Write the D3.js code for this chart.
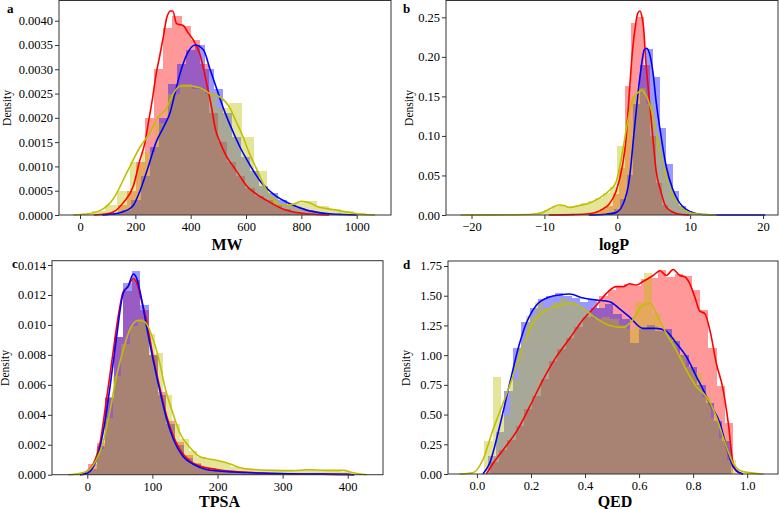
<!DOCTYPE html>
<html lang="en">
<head>
<meta charset="UTF-8">
<title>distributions</title>
<script src="https://cdn.jsdelivr.net/npm/d3@7/dist/d3.min.js"></script>
<style>
  body { margin: 0; background: #fff; }
</style>
</head>
<body>
<script>
// ---- colours of the three sets
var setColors = ["#ff0000", "#0000ff", "#bfbf00"];
var serif = "'Liberation Serif', 'Times New Roman', serif";

// ---- tick labels
var mwTicksX = [0, 200, 400, 600, 800, 1000];
var mwTicksY = [0, 0.0005, 0.0010, 0.0015, 0.0020, 0.0025, 0.0030, 0.0035, 0.0040];
var logpTicksX = [-20, -10, 0, 10, 20];
var logpTicksY = [0, 0.05, 0.10, 0.15, 0.20, 0.25];
var tpsaTicksX = [0, 100, 200, 300, 400];
var tpsaTicksY = [0, 0.002, 0.004, 0.006, 0.008, 0.010, 0.012, 0.014];
var qedTicksX = [0, 0.2, 0.4, 0.6, 0.8, 1.0];
var qedTicksY = [0, 0.25, 0.5, 0.75, 1.0, 1.25, 1.5, 1.75];

// ---- MW histograms: [first bin edge, bin width], densities
var mwRedBins = [103, 33];
var mwRedHist = [0.00004, 0.0002, 0.0005, 0.0011, 0.0020, 0.0030, 0.00384, 0.0041, 0.0039, 0.0036, 0.0031, 0.0021, 0.0015, 0.0011, 0.0008, 0.00055, 0.0004, 0.0003, 0.0002, 0.00012, 0.00007, 0.00004, 0.00002];
var mwBlueBins = [120, 33];
var mwBlueHist = [0.00004, 0.0001, 0.0003, 0.0008, 0.0014, 0.0020, 0.0027, 0.0031, 0.0034, 0.0035, 0.0030, 0.0026, 0.0021, 0.0016, 0.0012, 0.0009, 0.0006, 0.00045, 0.0003, 0.0002, 0.00015, 0.0001, 0.00006, 0.00004, 0.00002];
var mwYellowBins = [0, 45];
var mwYellowHist = [0.00002, 0.00008, 0.0002, 0.0005, 0.0011, 0.0013, 0.0019, 0.0025, 0.0027, 0.0026, 0.0025, 0.0022, 0.0023, 0.0016, 0.0009, 0.0004, 0.0002, 0.00025, 0.00028, 0.00018, 0.00012, 0.00008, 0.00004];
// MW density curves [value, density]
var mwRedKde = [[50,0],[90,0.00002],[120,0.00006],[157,0.00026],[193,0.0006],[215,0.0011],[235,0.0015],[247,0.0019],[262,0.0024],[275,0.0029],[289,0.0033],[302,0.0037],[313,0.00405],[327,0.0042],[335,0.0042],[349,0.00394],[373,0.0039],[391,0.00375],[410,0.0036],[434,0.0033],[458,0.0027],[476,0.0022],[488,0.0018],[506,0.0015],[530,0.0012],[554,0.001],[578,0.0008],[602,0.0006],[640,0.00042],[675,0.0003],[735,0.00012],[795,0.00004],[860,0.00001],[900,0]];
var mwBlueKde = [[80,0],[130,0.00003],[170,0.0001],[193,0.0002],[217,0.0005],[247,0.001],[275,0.0015],[301,0.0018],[325,0.0021],[343,0.0025],[361,0.0029],[386,0.0033],[416,0.0035],[446,0.0034],[470,0.003],[494,0.0026],[518,0.0022],[554,0.0017],[578,0.0014],[602,0.00115],[651,0.0007],[699,0.00043],[759,0.00023],[819,0.0001],[892,0.00003],[950,0.00001],[1000,0]];
var mwYellowKde = [[-24,0],[20,0.00002],[72,0.00009],[120,0.00033],[169,0.00087],[217,0.0014],[253,0.0017],[280,0.002],[313,0.0022],[337,0.0025],[361,0.00265],[390,0.00266],[409,0.00265],[434,0.00262],[470,0.0025],[506,0.00243],[542,0.0022],[566,0.0019],[590,0.0016],[610,0.0013],[639,0.00094],[675,0.0005],[711,0.00025],[740,0.0002],[770,0.00022],[800,0.00028],[830,0.00025],[855,0.00018],[916,0.00011],[976,0.00005],[1030,0.00001],[1066,0]];

// ---- logP
var logpRedBins = [-4.9, 0.85];
var logpRedHist = [0.001, 0.002, 0.004, 0.007, 0.012, 0.026, 0.06, 0.163, 0.243, 0.25, 0.19, 0.10, 0.04, 0.013, 0.004, 0.001];
var logpBlueBins = [-2.3, 0.9];
var logpBlueHist = [0.001, 0.003, 0.007, 0.02, 0.05, 0.14, 0.19, 0.21, 0.175, 0.11, 0.065, 0.03, 0.012, 0.005, 0.002, 0.001];
var logpYellowBins = [-11, 1.0];
var logpYellowHist = [0.002, 0.006, 0.011, 0.012, 0.01, 0.012, 0.015, 0.018, 0.022, 0.028, 0.036, 0.087, 0.12, 0.15, 0.16, 0.14, 0.10, 0.06, 0.03, 0.012, 0.005, 0.002, 0.001];
var logpRedKde = [[-9.4,0],[-6,0.0005],[-3.9,0.0015],[-2,0.0075],[-1.1,0.014],[-0.2,0.029],[0.7,0.062],[1.2,0.096],[1.65,0.154],[2.1,0.209],[2.5,0.24],[2.8,0.255],[3.1,0.258],[3.4,0.25],[3.6,0.238],[3.9,0.196],[4.4,0.146],[4.9,0.096],[5.3,0.058],[6.0,0.029],[6.7,0.01],[8.1,0.002],[9.9,0]];
var logpBlueKde = [[-3.9,0],[-1.5,0.001],[-0.2,0.003],[0.7,0.012],[1.65,0.045],[2.3,0.104],[2.8,0.15],[3.3,0.188],[3.7,0.209],[4.0,0.211],[4.4,0.205],[4.9,0.18],[5.3,0.146],[6.0,0.1],[6.7,0.062],[7.6,0.033],[8.5,0.016],[9.4,0.0075],[10.8,0.002],[12.7,0.0003],[15,0],[20.3,0]];
var logpYellowKde = [[-21.5,0],[-15,0.0003],[-11.7,0.001],[-10.3,0.003],[-8.9,0.0096],[-8,0.0126],[-7.3,0.012],[-6.6,0.0096],[-5.2,0.012],[-3.9,0.015],[-2.5,0.021],[-1.1,0.031],[-0.2,0.041],[0.7,0.079],[1.4,0.117],[2.1,0.146],[3.0,0.156],[3.3,0.158],[3.9,0.152],[4.9,0.125],[5.8,0.083],[6.7,0.05],[7.6,0.024],[9.0,0.0075],[10.8,0.0015],[13.6,0]];

// ---- TPSA
var tpsaRedBins = [1, 13.4];
var tpsaRedHist = [0.0007, 0.0021, 0.0052, 0.0092, 0.0123, 0.0130, 0.0110, 0.0080, 0.0055, 0.0036, 0.0022, 0.0013, 0.0008, 0.0005, 0.0004, 0.0003, 0.0002, 0.00015, 0.0001, 0.00008, 0.00006, 0.00005, 0.00004, 0.00003, 0.00003, 0.00002, 0.00002, 0.00002, 0.00001];
var tpsaBlueBins = [1, 13.4];
var tpsaBlueHist = [0.0004, 0.0019, 0.0051, 0.0092, 0.0128, 0.0136, 0.0113, 0.0080, 0.0053, 0.0034, 0.0020, 0.0011, 0.0007, 0.0004, 0.0003, 0.0002, 0.00015, 0.0001, 0.00008, 0.00006, 0.00004, 0.00003, 0.00002, 0.00002, 0.00001];
var tpsaYellowBins = [0, 13];
var tpsaYellowHist = [0.0004, 0.0017, 0.0038, 0.0066, 0.0087, 0.0099, 0.0104, 0.0094, 0.0081, 0.0053, 0.0034, 0.0024, 0.0016, 0.0012, 0.0010, 0.0009, 0.0008, 0.0005, 0.0004, 0.00035, 0.0003, 0.0003, 0.00028, 0.00027, 0.00028, 0.0003, 0.00035, 0.0003, 0.00028, 0.00028, 0.0002];
var tpsaRedKde = [[-11,0],[0,0.00024],[9,0.0007],[19.5,0.0021],[30,0.0052],[40,0.0083],[47.6,0.0106],[55,0.0122],[63,0.0126],[70.7,0.0131],[76,0.0128],[83.5,0.0116],[91,0.0103],[101,0.0079],[112,0.0057],[122,0.0039],[132,0.0026],[142,0.0017],[158,0.0009],[173,0.00058],[199,0.00035],[224,0.00022],[275,0.0001],[327,0.00005],[398,0.00002],[410,0]];
var tpsaBlueKde = [[-11,0],[0,0.0001],[14,0.001],[24.6,0.0029],[35,0.0059],[45,0.0092],[55,0.0121],[63,0.0126],[70.7,0.0134],[76,0.0131],[83.5,0.0117],[91,0.0099],[101,0.0077],[112,0.0055],[122,0.0037],[132,0.0024],[147.5,0.0012],[163,0.0007],[183,0.00035],[224,0.00018],[275,0.0001],[330,0.00005],[398,0.00002],[410,0]];
var tpsaYellowKde = [[-29,0],[-11,0.0001],[0,0.00024],[14,0.001],[24.6,0.0022],[35,0.0043],[45,0.0066],[55,0.0083],[65.5,0.0097],[78,0.0103],[88.6,0.0102],[99,0.0093],[109,0.0079],[119,0.0059],[130,0.0043],[142,0.0028],[158,0.0018],[173,0.0012],[194,0.001],[214,0.0008],[235,0.00047],[255,0.00035],[286,0.00029],[316,0.00027],[337,0.00033],[368,0.00029],[393,0.00029],[409,0.00013],[429,0]];

// ---- QED
var qedRedBins = [0.05, 0.031];
var qedRedHist = [0.1, 0.2, 0.29, 0.4, 0.55, 0.66, 0.8, 0.95, 1.05, 1.14, 1.24, 1.32, 1.40, 1.50, 1.55, 1.58, 1.60, 1.58, 1.64, 1.65, 1.72, 1.66, 1.68, 1.67, 1.55, 1.38, 1.06, 0.74, 0.43];
var qedBlueBins = [0.04, 0.031];
var qedBlueHist = [0.15, 0.35, 0.7, 1.06, 1.28, 1.40, 1.47, 1.50, 1.52, 1.50, 1.48, 1.45, 1.47, 1.40, 1.43, 1.35, 1.30, 1.10, 1.22, 1.25, 1.20, 1.22, 1.12, 1.00, 0.90, 0.75, 0.60, 0.45, 0.28];
var qedYellowBins = [0.028, 0.031];
var qedYellowHist = [0.28, 0.82, 0.5, 0.8, 1.07, 1.33, 1.45, 1.40, 1.45, 1.48, 1.45, 1.40, 1.35, 1.30, 1.32, 1.30, 1.25, 1.22, 1.45, 1.69, 1.35, 1.20, 1.15, 1.00, 0.9, 0.85, 0.65, 0.47, 0.3, 0.12];
var qedRedKde = [[0.035,0],[0.06,0.09],[0.096,0.2],[0.146,0.356],[0.195,0.566],[0.244,0.79],[0.294,0.987],[0.343,1.14],[0.393,1.3],[0.442,1.42],[0.479,1.52],[0.516,1.576],[0.541,1.576],[0.565,1.6],[0.59,1.59],[0.615,1.62],[0.652,1.67],[0.677,1.71],[0.701,1.67],[0.726,1.72],[0.75,1.67],[0.769,1.66],[0.788,1.6],[0.806,1.49],[0.825,1.37],[0.843,1.35],[0.862,1.21],[0.886,0.93],[0.911,0.71],[0.93,0.43],[0.948,0.09],[0.967,0.01],[0.985,0]];
var qedBlueKde = [[0.022,0],[0.047,0.09],[0.084,0.4],[0.121,0.76],[0.158,1.1],[0.183,1.27],[0.22,1.42],[0.269,1.49],[0.306,1.506],[0.343,1.514],[0.393,1.48],[0.442,1.464],[0.491,1.45],[0.528,1.39],[0.565,1.32],[0.615,1.225],[0.664,1.225],[0.701,1.2],[0.738,1.1],[0.775,0.987],[0.812,0.82],[0.837,0.71],[0.862,0.59],[0.899,0.43],[0.923,0.23],[0.948,0.06],[0.973,0.01],[0.985,0]];
var qedYellowKde = [[-0.064,0],[-0.015,0.01],[0.022,0.12],[0.059,0.37],[0.096,0.59],[0.133,0.82],[0.17,1.07],[0.207,1.27],[0.257,1.38],[0.306,1.42],[0.349,1.436],[0.393,1.39],[0.442,1.31],[0.491,1.25],[0.541,1.234],[0.578,1.3],[0.609,1.41],[0.64,1.436],[0.664,1.35],[0.701,1.18],[0.738,1.04],[0.775,0.875],[0.812,0.735],[0.849,0.65],[0.886,0.48],[0.911,0.31],[0.948,0.09],[0.985,0.02],[1.06,0]];

var width = 779, height = 509;
var svg = d3.select("body").append("svg")
    .attr("width", width)
    .attr("height", height)
    .attr("font-family", serif);

var panels = [
  {letter: "a", label: "MW", box: [59, 391, 0.5, 215], xd: [-76, 1124], yd: [0, 0.004416],
   tx: mwTicksX, ty: mwTicksY, fx: d3.format("d"), fy: d3.format(".4f"),
   letterPos: [7, 13], dens: [7, 108], labelY: 250,
   bins: [mwRedBins, mwBlueBins, mwYellowBins], hist: [mwRedHist, mwBlueHist, mwYellowHist],
   kde: [mwRedKde, mwBlueKde, mwYellowKde]},
  {letter: "b", label: "logP", box: [446, 778, 0.5, 215], xd: [-23.5, 22.05], yd: [0, 0.2713],
   tx: logpTicksX, ty: logpTicksY, fx: d3.format("d"), fy: d3.format(".2f"),
   letterPos: [403, 13], dens: [409, 108], labelY: 250,
   bins: [logpRedBins, logpBlueBins, logpYellowBins], hist: [logpRedHist, logpBlueHist, logpYellowHist],
   kde: [logpRedKde, logpBlueKde, logpYellowKde]},
  {letter: "c", label: "TPSA", box: [52, 383, 260.7, 474.7], xd: [-54.2, 454.2], yd: [0, 0.01429],
   tx: tpsaTicksX, ty: tpsaTicksY, fx: d3.format("d"), fy: d3.format(".3f"),
   letterPos: [12, 268], dens: [5, 368], labelY: 507,
   bins: [tpsaRedBins, tpsaBlueBins, tpsaYellowBins], hist: [tpsaRedHist, tpsaBlueHist, tpsaYellowHist],
   kde: [tpsaRedKde, tpsaBlueKde, tpsaYellowKde]},
  {letter: "d", label: "QED", box: [448, 778, 261, 474], xd: [-0.107, 1.114], yd: [0, 1.792],
   tx: qedTicksX, ty: qedTicksY, fx: d3.format(".1f"), fy: d3.format(".2f"),
   letterPos: [403, 269], dens: [406, 368], labelY: 507,
   bins: [qedRedBins, qedBlueBins, qedYellowBins], hist: [qedRedHist, qedBlueHist, qedYellowHist],
   kde: [qedRedKde, qedBlueKde, qedYellowKde]}
];

panels.forEach(function(p) {
  var x = d3.scaleLinear().domain(p.xd).range([p.box[0], p.box[1]]);
  var y = d3.scaleLinear().domain(p.yd).range([p.box[3], p.box[2]]);
  var g = svg.append("g");

  // histograms
  p.hist.forEach(function(h, k) {
    var b = p.bins[k];
    g.append("g")
        .attr("fill", setColors[k])
        .attr("fill-opacity", 0.4)
        .attr("shape-rendering", "crispEdges")
      .selectAll("rect")
      .data(h)
      .enter().append("rect")
        .attr("x", function(d, i) { return x(b[0] + i * b[1]); })
        .attr("width", function(d, i) { return x(b[0] + (i + 1) * b[1]) - x(b[0] + i * b[1]); })
        .attr("y", function(d) { return y(d); })
        .attr("height", function(d) { return y(0) - y(d); });
  });

  // density lines
  var line = d3.line()
      .x(function(d) { return x(d[0]); })
      .y(function(d) { return y(d[1]); })
      .curve(d3.curveMonotoneX);
  p.kde.forEach(function(k, i) {
    g.append("path")
        .datum(k)
        .attr("d", line)
        .attr("fill", "none")
        .attr("stroke", setColors[i])
        .attr("stroke-width", 1.6);
  });

  // frame
  g.append("rect")
      .attr("x", p.box[0]).attr("y", p.box[2])
      .attr("width", p.box[1] - p.box[0]).attr("height", p.box[3] - p.box[2])
      .attr("fill", "none").attr("stroke", "#333").attr("stroke-width", 1);

  // axes
  var ax = g.append("g")
      .attr("transform", "translate(0," + p.box[3] + ")")
      .call(d3.axisBottom(x).tickValues(p.tx).tickFormat(p.fx).tickSize(4).tickPadding(3));
  var ay = g.append("g")
      .attr("transform", "translate(" + p.box[0] + ",0)")
      .call(d3.axisLeft(y).tickValues(p.ty).tickFormat(p.fy).tickSize(4).tickPadding(2));
  [ax, ay].forEach(function(a) {
    a.attr("font-family", serif).attr("font-size", 12.5);
    a.select(".domain").remove();
    a.selectAll("line").attr("stroke", "#333");
    a.selectAll("text").attr("fill", "#000");
  });

  // labels
  g.append("text")
      .attr("x", (p.box[0] + p.box[1]) / 2 + 2).attr("y", p.labelY)
      .attr("text-anchor", "middle")
      .attr("font-size", 16).attr("font-weight", "bold")
      .text(p.label);
  g.append("text")
      .attr("transform", "translate(" + (p.dens[0] + 4) + "," + p.dens[1] + ") rotate(-90)")
      .attr("text-anchor", "middle")
      .attr("font-size", 11.5)
      .text("Density");
  g.append("text")
      .attr("x", p.letterPos[0]).attr("y", p.letterPos[1])
      .attr("font-size", 13).attr("font-weight", "bold")
      .text(p.letter);
});
</script>
</body>
</html>
